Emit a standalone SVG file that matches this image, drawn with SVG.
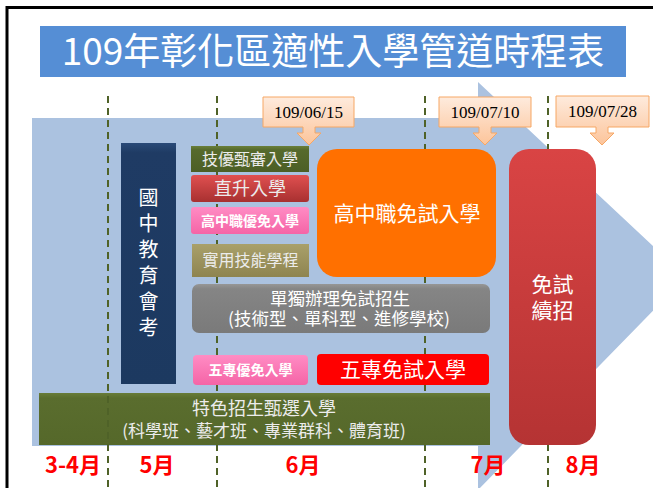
<svg xmlns="http://www.w3.org/2000/svg" width="653" height="488" viewBox="0 0 653 488">
<defs>
<style>
.cjk{font-family:"Noto Sans CJK TC","Noto Sans CJK SC",sans-serif;}
.w{fill:#ffffff;}
.lt{fill:#ececec;}
.dash{stroke:#4F6228;stroke-width:2;stroke-dasharray:7 5;fill:none;}
.date{font-family:"Liberation Serif",serif;font-size:17px;fill:#000;text-anchor:middle;}
.callout{fill:url(#gPeach);stroke:#F6A765;stroke-width:1;}
.mon{font-family:"Noto Sans CJK TC",sans-serif;font-weight:bold;font-size:22px;fill:#FF0000;text-anchor:middle;}
.mid{text-anchor:middle;}
</style>
<linearGradient id="gPeach" x1="0" y1="0" x2="0" y2="1"><stop offset="0" stop-color="#FEEBDD"/><stop offset="1" stop-color="#FCC49A"/></linearGradient>
<linearGradient id="gNavy" x1="0" y1="0" x2="0" y2="1"><stop offset="0" stop-color="#2A4A78"/><stop offset="0.04" stop-color="#1F3B64"/><stop offset="1" stop-color="#1C3960"/></linearGradient>
<linearGradient id="gOlive" x1="0" y1="0" x2="0" y2="1"><stop offset="0" stop-color="#6A7F3A"/><stop offset="0.15" stop-color="#566A2C"/><stop offset="1" stop-color="#4C5F25"/></linearGradient>
<linearGradient id="gRed" x1="0" y1="0" x2="0" y2="1"><stop offset="0" stop-color="#E05050"/><stop offset="1" stop-color="#A83030"/></linearGradient>
<linearGradient id="gPink" x1="0" y1="0" x2="0" y2="1"><stop offset="0" stop-color="#FF8CC4"/><stop offset="1" stop-color="#F564A6"/></linearGradient>
<linearGradient id="gKhaki" x1="0" y1="0" x2="0" y2="1"><stop offset="0" stop-color="#A9A06A"/><stop offset="1" stop-color="#8E8450"/></linearGradient>
<linearGradient id="gGray" x1="0" y1="0" x2="0" y2="1"><stop offset="0" stop-color="#969696"/><stop offset="0.1" stop-color="#858585"/><stop offset="1" stop-color="#7A7A7A"/></linearGradient>
<linearGradient id="gRed2" x1="0" y1="0" x2="0" y2="1"><stop offset="0" stop-color="#D94444"/><stop offset="1" stop-color="#B53333"/></linearGradient>
<linearGradient id="gGreen" x1="0" y1="0" x2="0" y2="1"><stop offset="0" stop-color="#687C38"/><stop offset="0.1" stop-color="#5A6D2E"/><stop offset="1" stop-color="#55682A"/></linearGradient>
</defs>
<rect width="653" height="488" fill="#ffffff"/>
<path d="M7,700 V7.5 H700" fill="none" stroke="#000" stroke-width="3"/>

<g id="title">
<rect x="40" y="26" width="586" height="51" fill="#558ED5"/>
<text class="cjk w mid" x="333" y="65" font-size="37">109年彰化區適性入學管道時程表</text>
</g>

<g id="bg-arrow">
<polygon points="32,118 478,118 478,82 686,277 478,490 478,446 32,446" fill="#ABC2E0"/>
</g>

<g id="connectors">
<line class="dash" x1="217" y1="96" x2="217" y2="488"/>
<line class="dash" x1="425" y1="96" x2="425" y2="488"/>
<line class="dash" x1="548" y1="96" x2="548" y2="488"/>
</g>

<g id="d0615">
<path class="callout" d="M263,97 H354 V127 H315 V133 H321 L309,145 L297,133 H303 V127 H263 Z"/>
<text class="date" x="308.5" y="118">109/06/15</text>
</g>
<g id="d0710">
<path class="callout" d="M439,97 H531 V127 H491 V133 H497 L485,145 L473,133 H479 V127 H439 Z"/>
<text class="date" x="485" y="118">109/07/10</text>
</g>
<g id="d0728">
<path class="callout" d="M556,96 H649 V127 H608 V133 H614 L602,145 L590,133 H596 V127 H556 Z"/>
<text class="date" x="602.5" y="117">109/07/28</text>
</g>

<g id="n-exam">
<rect x="121" y="143" width="55" height="241" fill="url(#gNavy)"/>
<text class="cjk w mid" font-size="20" x="148.5">
<tspan x="148.5" y="205">國</tspan><tspan x="148.5" y="231">中</tspan><tspan x="148.5" y="257">教</tspan><tspan x="148.5" y="283">育</tspan><tspan x="148.5" y="309">會</tspan><tspan x="148.5" y="335">考</tspan>
</text>
</g>

<g id="n-jiyou">
<rect x="191" y="146" width="118" height="26" fill="url(#gOlive)"/>
<text class="cjk lt mid" x="250" y="165" font-size="16">技優甄審入學</text>
</g>
<g id="n-zhisheng">
<rect x="191" y="175" width="118" height="27" rx="3" fill="url(#gRed)"/>
<text class="cjk lt mid" x="250" y="195" font-size="18">直升入學</text>
</g>
<g id="n-youmian">
<rect x="191" y="207" width="118" height="27" rx="3" fill="url(#gPink)"/>
<text class="cjk w mid" x="250" y="225.5" font-size="14" font-weight="bold">高中職優免入學</text>
</g>
<g id="n-shiyong">
<rect x="192" y="244" width="117" height="33" fill="url(#gKhaki)"/>
<text class="cjk lt mid" x="250.5" y="266" font-size="16">實用技能學程</text>
</g>
<g id="n-free">
<rect x="317" y="149" width="179" height="128" rx="20" fill="#FF7000"/>
<text class="cjk w mid" x="407" y="221" font-size="21">高中職免試入學</text>
</g>
<g id="n-single">
<rect x="192" y="284" width="298" height="49" rx="7" fill="url(#gGray)"/>
<text class="cjk w mid" x="340" y="305" font-size="17.5">單獨辦理免試招生</text>
<text class="cjk w mid" x="339" y="325" font-size="17.5">(技術型、單科型、進修學校)</text>
</g>
<g id="n-wuzhuan-you">
<rect x="193" y="355" width="115" height="30" rx="4" fill="url(#gPink)"/>
<text class="cjk w mid" x="250.5" y="374.5" font-size="14" font-weight="bold">五專優免入學</text>
</g>
<g id="n-wuzhuan">
<rect x="317" y="354" width="172" height="31" rx="4" fill="#FF0000"/>
<text class="cjk w mid" x="403" y="376.5" font-size="21">五專免試入學</text>
</g>
<g id="n-xuzhao">
<rect x="509" y="149" width="87" height="296" rx="20" fill="url(#gRed2)"/>
<text class="cjk w mid" x="552.5" y="292" font-size="21">免試</text>
<text class="cjk w mid" x="552.5" y="318" font-size="21">續招</text>
</g>
<g id="n-tese">
<rect x="39" y="393" width="451" height="52" fill="url(#gGreen)"/>
<text class="cjk lt mid" x="264" y="415" font-size="18">特色招生甄選入學</text>
<text class="cjk lt mid" x="264" y="437" font-size="17">(科學班、藝才班、專業群科、體育班)</text>
</g>

<g id="connectors-top">
<line class="dash" x1="108" y1="96" x2="108" y2="488"/>
</g>

<g id="months">
<text class="mon" x="73" y="473">3-4月</text>
<text class="mon" x="157" y="473">5月</text>
<text class="mon" x="303" y="473">6月</text>
<text class="mon" x="488" y="473">7月</text>
<text class="mon" x="583" y="473">8月</text>
</g>
</svg>
